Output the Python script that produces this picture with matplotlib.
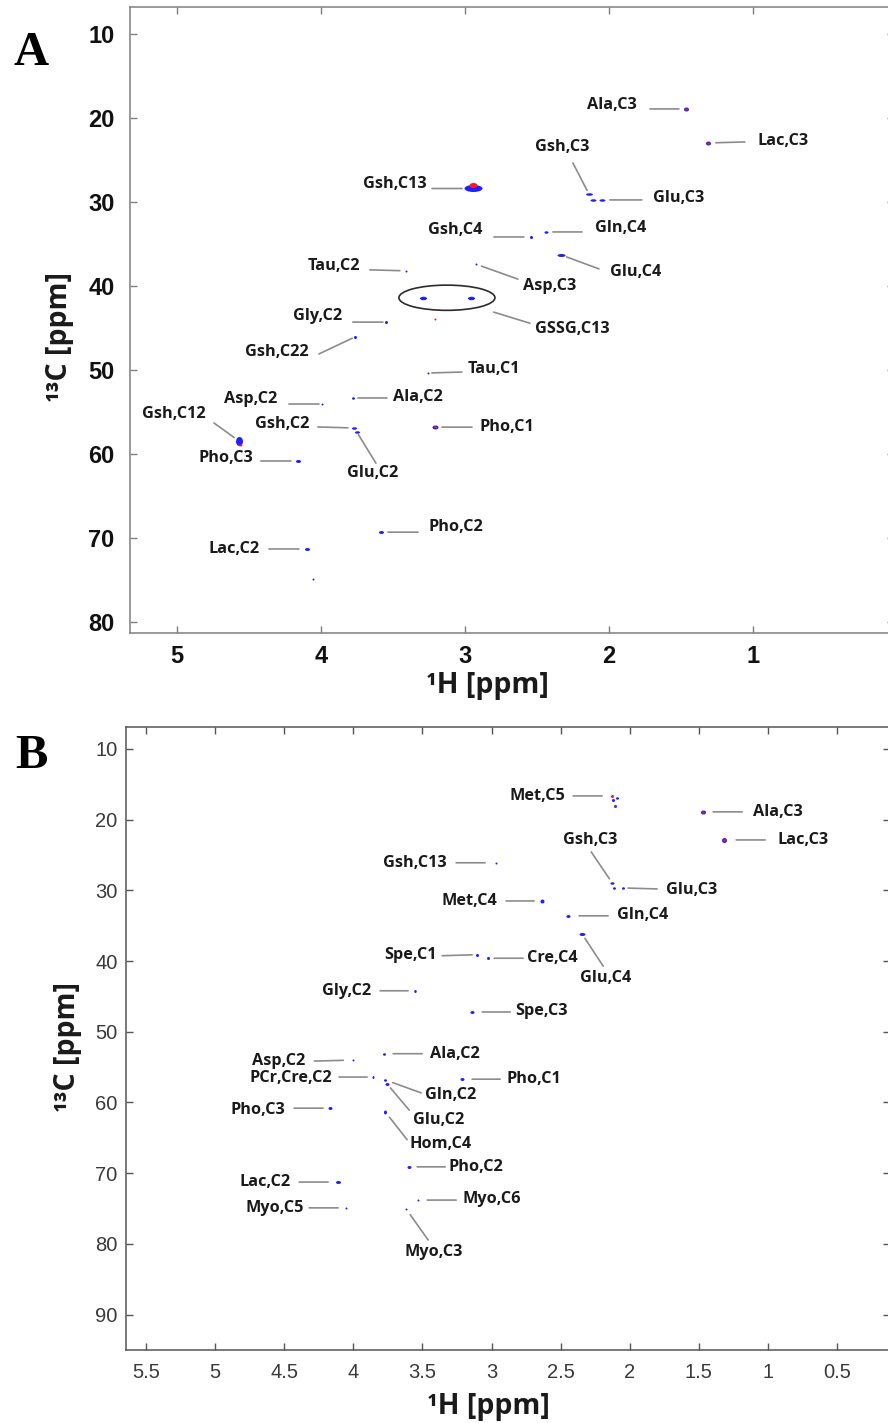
import matplotlib
matplotlib.use("Agg")
import matplotlib.pyplot as plt
from matplotlib.path import Path
from matplotlib.patches import Ellipse
from matplotlib.transforms import Affine2D

# ---------------- Panel A: cross peaks (1H ppm, 13C ppm) ----------------
A_H = [1.465, 1.313, 2.944, 2.944, 2.139, 2.111, 2.049, 2.542, 2.437, 2.333,
       2.924, 3.292, 2.958, 3.210, 3.410, 3.549, 3.764, 3.257, 3.993, 3.778,
       3.771, 3.750, 4.569, 4.160, 3.208, 3.583, 4.097, 4.056, 4.563]
A_C = [18.93, 22.98, 28.40, 27.95, 29.05, 29.76, 29.76, 34.17, 33.57, 36.30,
       37.40, 41.40, 41.40, 43.90, 38.20, 44.30, 46.07, 50.36, 54.05, 53.33,
       56.90, 57.40, 58.45, 60.83, 56.80, 69.30, 71.30, 74.90, 58.90]
# contour sign: 'b' positive, 'r' negative, 'rb' both
A_SIGN = ["rb", "rb", "b", "r", "b", "b", "b", "b", "b", "b",
          "b", "b", "b", "r", "b", "b", "b", "b", "b", "b",
          "b", "b", "b", "b", "rb", "b", "b", "b", "r"]
# contour extent (px) along 1H and 13C
A_WH = [5, 5, 18, 8, 7, 6, 6, 3, 4, 8, 2, 7, 7, 2, 2, 3, 3, 2, 2, 3, 5, 5, 7, 5, 6, 5, 5, 2, 4]
A_WC = [4, 4, 7, 5, 2.5, 2.5, 2.5, 3, 2.5, 3, 2, 3.5, 3.5, 2, 2, 3, 3, 2, 2, 2.5, 2.5, 2.5, 9, 3, 4, 3, 3, 2, 2]

A_LABELS = ["Ala,C3", "Lac,C3", "Gsh,C13", "Gsh,C3", "Glu,C3", "Gsh,C4", "Gln,C4",
            "Glu,C4", "Asp,C3", "GSSG,C13", "Tau,C2", "Gly,C2", "Gsh,C22", "Tau,C1",
            "Asp,C2", "Ala,C2", "Gsh,C2", "Glu,C2", "Gsh,C12", "Pho,C3", "Pho,C1",
            "Pho,C2", "Lac,C2"]
A_LABEL_PEAKS = [(0,), (1,), (2,), (4,), (6,), (7,), (8,), (9,), (10,), (11, 12),
                 (14,), (15,), (16,), (17,), (18,), (19,), (20,), (21,), (22,),
                 (23,), (24,), (25,), (26,)]
A_CIRCLED = (11, 12)

# ---------------- Panel B: cross peaks ----------------
B_H = [2.127, 2.120, 2.090, 2.106, 1.469, 1.317, 2.967, 2.127, 2.113, 2.048,
       2.634, 2.446, 2.344, 3.104, 3.025, 3.140, 3.553, 4.000, 3.777, 3.857,
       3.770, 3.755, 3.770, 3.213, 4.168, 3.596, 4.110, 4.052, 3.531, 3.618]
B_C = [16.65, 17.20, 16.90, 18.07, 18.90, 22.87, 26.10, 28.95, 29.66, 29.66,
       31.50, 33.60, 36.20, 39.10, 39.60, 47.20, 44.20, 54.00, 53.10, 56.40,
       56.80, 57.40, 61.30, 56.70, 60.80, 69.10, 71.25, 74.90, 73.80, 75.06]
B_SIGN = ["r", "b", "b", "rb", "rb", "rb", "b", "b", "b", "b",
          "b", "b", "b", "b", "b", "b", "b", "b", "b", "b",
          "b", "b", "b", "b", "b", "b", "b", "b", "b", "b"]
B_WH = [3, 3, 3, 3, 5, 5, 2, 4, 3, 3, 4, 4, 6, 3, 3, 4, 2.5, 2, 3, 2, 3, 4, 3, 4, 4, 4, 5, 2, 2, 2]
B_WC = [3, 3, 2.5, 3, 4, 5, 2, 2.5, 2.5, 2.5, 4, 3, 3, 3, 3, 3, 3, 2, 2.5, 3, 2.5, 3, 4, 3, 3, 3, 3, 2, 2, 2]

B_LABELS = ["Met,C5", "Ala,C3", "Lac,C3", "Gsh,C13", "Gsh,C3", "Glu,C3", "Met,C4",
            "Gln,C4", "Glu,C4", "Spe,C1", "Cre,C4", "Spe,C3", "Gly,C2", "Asp,C2",
            "Ala,C2", "PCr,Cre,C2", "Gln,C2", "Glu,C2", "Hom,C4", "Pho,C1",
            "Pho,C3", "Pho,C2", "Lac,C2", "Myo,C5", "Myo,C6", "Myo,C3"]
B_LABEL_PEAKS = [(0,), (4,), (5,), (6,), (7,), (9,), (10,), (11,), (12,), (13,),
                 (14,), (15,), (16,), (17,), (18,), (19,), (20,), (21,), (22,),
                 (23,), (24,), (25,), (26,), (27,), (28,), (29,)]

# ---------------- label layout (pixel offsets from the peak) ----------------
# (text dx, text dy, ha, leader start dx, leader start dy, gap at peak)
A_LAYOUT = [(-49, 4, "right", -36, 0, 7), (50, 2, "left", 37, 1, 8),
            (-46, 4, "right", -41, 0, 11), (-27, 47, "center", -16, 31, 4),
            (51, 2, "left", 40, 0, 8), (-48, 7, "right", -37, 0, 7),
            (49, 4, "left", 36, 0, 7), (49, -17, "left", 38, -14, 6),
            (47, -22, "left", 42, -15, 6), (88, -31.5, "left", 83, -25.5, 49),
            (-46, 5, "right", -36, 1, 6), (-44, 6, "right", -33, 0, 3),
            (-46, -15, "right", -36, -17, 3), (40, 4, "left", 34, 1, 4),
            (-45, 5, "right", -33, 0, 3), (40, 1, "left", 34, 0, 5),
            (-45, 4, "right", -36, 1, 6), (16, -41, "center", 19, -31, 3),
            (-33, 27, "right", -25, 18, 6), (-45, 3, "right", -37, 0, 7),
            (45, 0, "left", 37, 0, 7), (48, 5, "left", 37, 0, 7),
            (-47, 0, "right", -38, 0, 8)]
B_LAYOUT = [(-47, 0, "right", -39, 0, 10), (50, 0, "left", 39, 0, 10),
            (53, 0, "left", 41, 0, 12), (-49, 0, "right", -40, 0, 11),
            (-22, 43, "center", -21, 31, 5), (43, -2, "left", 34, -1, 5),
            (-45, 0, "right", -36, 0, 8), (49, 1, "left", 40, 0, 11),
            (23, -44, "center", 21, -32, 5), (-40, 0, "right", -35, -1, 5),
            (39, 0, "left", 35, 0, 6), (43, 1, "left", 38, 0, 10),
            (-44, 0, "right", -35, 0, 7), (-48, -1, "right", -39, -1, 10),
            (46, 0, "left", 38, 0, 9), (-41, -1, "right", -34, 0, 6),
            (40, -15, "left", 36, -13, 8), (26, -36, "left", 22, -26, 5),
            (24, -32, "left", 22, -28, 7), (44, 0, "left", 38, 0, 10),
            (-45, -2, "right", -36, 0, 7), (39, 0, "left", 36, 0, 8),
            (-48, 0, "right", -39, 0, 10), (-42, 0, "right", -37, 0, 8),
            (44, 1, "left", 38, 0, 9), (28, -43, "center", 22, -31, 7)]

W, H = 888, 1423
BLUE = "#1f1fff"
RED = "#ff1a1a"
LEADER = "#8c8c8c"
LABEL_FONT = dict(family="Open Sans", fontweight="bold", fontsize=11.7, color="#1a1a1a")
AXLABEL_FONT = dict(family="Open Sans", fontweight="bold", fontsize=20.5, color="#1a1a1a")

fig = plt.figure(figsize=(W / 100, H / 100), dpi=100)


def box(left, top, right, bottom):
    return [left / W, 1 - bottom / H, (right - left) / W, (bottom - top) / H]


def ellipse_marker(wh, wc):
    m = max(wh, wc)
    return Path.unit_circle().transformed(Affine2D().scale(wh / m, wc / m))


def draw_peaks(ax, hs, cs, signs, wh, wc):
    for x, y, s, a, b in zip(hs, cs, signs, wh, wc):
        mk = ellipse_marker(a, b)
        ms = max(a, b) * 0.72
        if "b" in s:
            ax.plot([x], [y], ls="none", marker=mk, ms=ms, color=BLUE, mec="none", zorder=3)
        if s == "rb":
            ax.plot([x], [y], ls="none", marker=mk, ms=ms * 0.5, color=RED, mec="none", zorder=4)
        elif s == "r":
            ax.plot([x], [y], ls="none", marker=mk, ms=ms, color=RED, mec="none", zorder=4)


def draw_labels(ax, hs, cs, names, peaks, layout):
    for name, idx, (tdx, tdy, ha, ldx, ldy, gap) in zip(names, peaks, layout):
        x = sum(hs[i] for i in idx) / len(idx)
        y = sum(cs[i] for i in idx) / len(idx)
        ax.annotate("", xy=(x, y), xytext=(ldx, ldy), textcoords="offset pixels",
                    arrowprops=dict(arrowstyle="-", color=LEADER, lw=1.2,
                                    shrinkA=0, shrinkB=gap * 0.72), zorder=2)
        ax.annotate(name, xy=(x, y), xytext=(tdx, tdy), textcoords="offset pixels",
                    ha=ha, va="center", **LABEL_FONT)


def style_axes(ax, spine_color, tick_font, xpad, ypad):
    for sp in ax.spines.values():
        sp.set_color(spine_color)
        sp.set_linewidth(1.1)
    ax.spines["right"].set_visible(False)
    ax.tick_params(direction="in", length=5, width=1.0, color=spine_color,
                   top=True, right=True, labeltop=False, labelright=False)
    ax.tick_params(axis="x", pad=xpad)
    ax.tick_params(axis="y", pad=ypad)
    for lab in ax.get_xticklabels() + ax.get_yticklabels():
        lab.set(**tick_font)


# ---------------- Panel A ----------------
axA = fig.add_axes(box(130, 7, 894, 633))
axA.set_xlim(5.326, 0.02)
axA.set_ylim(81.3, 6.8)
axA.set_xticks([5, 4, 3, 2, 1])
axA.set_xticklabels(["5", "4", "3", "2", "1"])
axA.set_yticks(range(10, 81, 10))
axA.set_yticklabels([str(v) for v in range(10, 81, 10)])
draw_peaks(axA, A_H, A_C, A_SIGN, A_WH, A_WC)
ring_h = sum(A_H[i] for i in A_CIRCLED) / len(A_CIRCLED)
ring_c = sum(A_C[i] for i in A_CIRCLED) / len(A_CIRCLED)
ring_w = abs(A_H[A_CIRCLED[0]] - A_H[A_CIRCLED[1]]) + 0.333
axA.add_patch(Ellipse((ring_h, ring_c), ring_w, 3.0, fill=False, ec="#2b2b2b", lw=1.2, zorder=2))
draw_labels(axA, A_H, A_C, A_LABELS, A_LABEL_PEAKS, A_LAYOUT)
style_axes(axA, "#7f7f7f",
           dict(family="Liberation Sans", fontweight="bold", fontsize=17, color="#111111"),
           xpad=9, ypad=11)

# ---------------- Panel B ----------------
axB = fig.add_axes(box(126, 727, 890, 1350))
axB.set_xlim(5.645, 0.117)
axB.set_ylim(95, 6.9)
bx = [5.5, 5, 4.5, 4, 3.5, 3, 2.5, 2, 1.5, 1, 0.5]
axB.set_xticks(bx)
axB.set_xticklabels([f"{v:g}" for v in bx])
axB.set_yticks(range(10, 91, 10))
axB.set_yticklabels([str(v) for v in range(10, 91, 10)])
draw_peaks(axB, B_H, B_C, B_SIGN, B_WH, B_WC)
draw_labels(axB, B_H, B_C, B_LABELS, B_LABEL_PEAKS, B_LAYOUT)
style_axes(axB, "#555555",
           dict(family="Liberation Sans", fontsize=14.5, color="#3a3a3a"),
           xpad=9, ypad=6)

# ---------------- axis titles and panel letters ----------------
fig.text(59.5 / W, 1 - 337.5 / H, "¹³C [ppm]", rotation=90, ha="center", va="center", **AXLABEL_FONT)
fig.text(487.5 / W, 1 - 686 / H, "¹H [ppm]", ha="center", va="center", **AXLABEL_FONT)
fig.text(67.5 / W, 1 - 1047 / H, "¹³C [ppm]", rotation=90, ha="center", va="center", **AXLABEL_FONT)
fig.text(488 / W, 1 - 1406.5 / H, "¹H [ppm]", ha="center", va="center", **AXLABEL_FONT)
fig.text(13 / W, 1 - 65 / H, "A", ha="left", va="baseline",
         family="Liberation Serif", fontweight="bold", fontsize=35)
fig.text(15 / W, 1 - 768 / H, "B", ha="left", va="baseline",
         family="Liberation Serif", fontweight="bold", fontsize=35)

fig.savefig("out.png", dpi=100)
